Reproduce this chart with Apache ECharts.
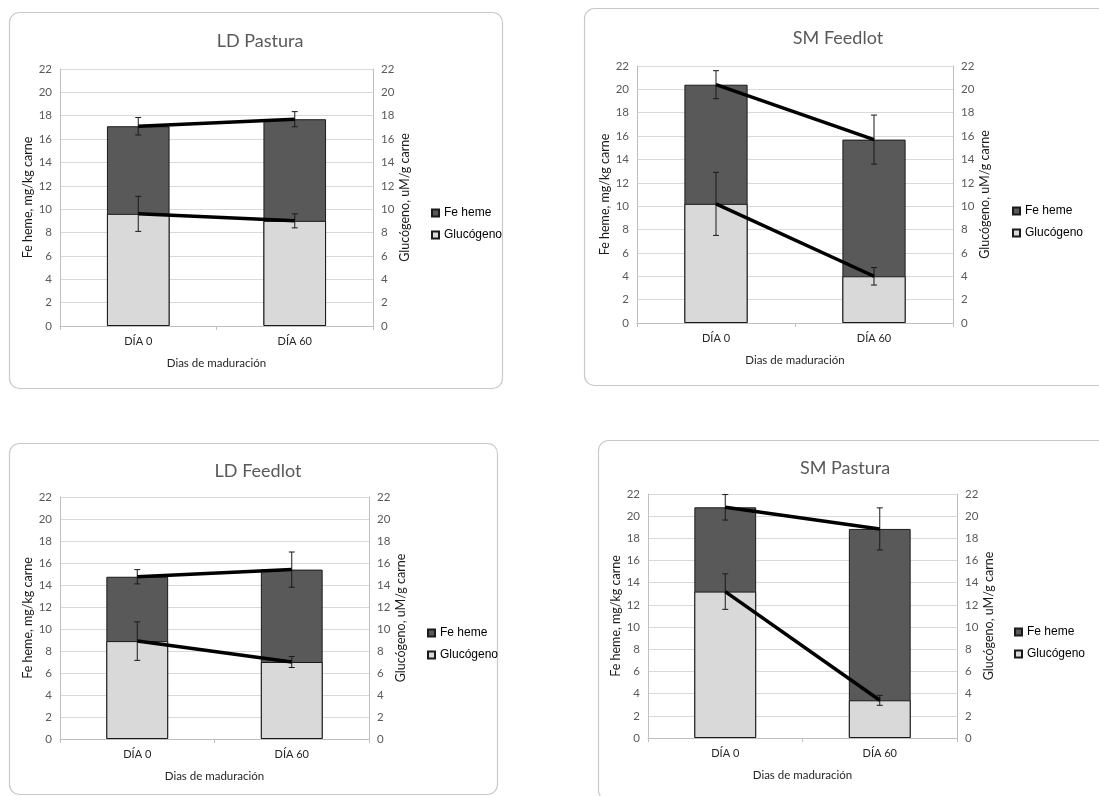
<!DOCTYPE html>
<html>
<head>
<meta charset="utf-8">
<script src="https://cdn.jsdelivr.net/npm/echarts@6/dist/echarts.min.js"></script>
<style>
html,body{margin:0;padding:0;background:#fff;}
#chart{width:1099px;height:796px;}
</style>
</head>
<body>
<div id="chart"></div>
<script>
// ---- data ----
const categories = ['DÍA 0', 'DÍA 60'];
const panelTitles = ['LD Pastura', 'SM Feedlot', 'LD Feedlot', 'SM Pastura'];
const seriesNames = ['Fe heme', 'Glucógeno'];
const xAxisTitle = 'Dias de maduración';
const leftAxisTitle = 'Fe heme, mg/kg carne';
const rightAxisTitle = 'Glucógeno, uM/g carne';
const yMin = 0, yMax = 22, yStep = 2;
const feHeme = [[17.1, 17.7], [20.4, 15.7], [14.75, 15.4], [20.8, 18.85]];
const feHemeErr = [[0.75, 0.65], [1.2, 2.1], [0.65, 1.6], [1.15, 1.9]];
const glucogeno = [[9.6, 9.0], [10.2, 4.0], [8.9, 7.0], [13.2, 3.4]];
const glucogenoErr = [[1.5, 0.6], [2.7, 0.75], [1.75, 0.5], [1.6, 0.45]];

// ---- layout ----
const layout = [
  {box: [9, 12, 493, 376], grid: [60, 69, 313, 257], title: [255, 27], legend: [426, 202]},
  {box: [584, 8, 540, 377], grid: [637, 66, 316, 257], title: [833, 24], legend: [1007, 200]},
  {box: [9, 443, 488, 351], grid: [60, 497, 309, 242], title: [253, 457], legend: [422, 622]},
  {box: [598, 440, 540, 360], grid: [648, 494, 309, 244], title: [840, 454], legend: [1009, 621]}
];

const CAL = 'Lato, "Open Sans", sans-serif';
const grids = [], xAxes = [], yAxes = [], series = [], titles = [], legends = [], graphics = [];

function errorSeries(p, vals, errs, yIdx) {
  return {
    type: 'custom', xAxisIndex: p, yAxisIndex: yIdx, z: 4, silent: true,
    data: vals.map((v, i) => [i, v - errs[i], v + errs[i]]),
    encode: {x: 0, y: [1, 2]},
    renderItem: function (params, api) {
      const lo = api.coord([api.value(0), api.value(1)]);
      const hi = api.coord([api.value(0), api.value(2)]);
      const hw = 3;
      const st = {stroke: '#1a1a1a', lineWidth: 1};
      return {type: 'group', children: [
        {type: 'line', shape: {x1: hi[0], y1: hi[1], x2: lo[0], y2: lo[1]}, style: st},
        {type: 'line', shape: {x1: hi[0] - hw, y1: hi[1], x2: hi[0] + hw, y2: hi[1]}, style: st},
        {type: 'line', shape: {x1: lo[0] - hw, y1: lo[1], x2: lo[0] + hw, y2: lo[1]}, style: st}
      ]};
    }
  };
}

layout.forEach((L, p) => {
  graphics.push({type: 'rect', silent: true, z: -10,
    shape: {x: L.box[0] + 0.5, y: L.box[1] + 0.5, width: L.box[2], height: L.box[3], r: 10},
    style: {fill: '#fff', stroke: '#c9c9c9', lineWidth: 1.2}});
  grids.push({left: L.grid[0], top: L.grid[1], width: L.grid[2], height: L.grid[3], containLabel: false});
  titles.push({text: panelTitles[p], left: L.title[0], top: L.title[1], textAlign: 'center',
    textStyle: {fontFamily: CAL, fontSize: 18, fontWeight: 'normal', color: '#595959'}});
  legends.push({data: seriesNames, orient: 'vertical', left: L.legend[0], top: L.legend[1],
    itemWidth: 7, itemHeight: 7, itemGap: 10, icon: 'rect', selectedMode: false,
    textStyle: {fontFamily: '"Liberation Sans", Arial, sans-serif', fontSize: 12, color: '#000'}});
  xAxes.push({type: 'category', gridIndex: p, data: categories, boundaryGap: true,
    axisLine: {lineStyle: {color: '#bfbfbf'}},
    axisTick: {show: true, length: 4, lineStyle: {color: '#bfbfbf'}},
    axisLabel: {fontFamily: CAL, fontSize: 11, color: '#262626', margin: 10},
    name: xAxisTitle, nameLocation: 'middle', nameGap: 31,
    nameTextStyle: {fontFamily: CAL, fontSize: 11.5, color: '#262626'}});
  const yBase = {type: 'value', gridIndex: p, min: yMin, max: yMax, interval: yStep,
    axisLine: {show: true, lineStyle: {color: '#bfbfbf'}}, axisTick: {show: false},
    axisLabel: {fontFamily: CAL, fontSize: 11.5, color: '#595959', margin: 8},
    nameLocation: 'middle',
    nameTextStyle: {fontFamily: CAL, fontSize: 12.5, color: '#1a1a1a'}};
  yAxes.push(Object.assign({}, yBase, {position: 'left', name: leftAxisTitle, nameGap: 22,
    splitLine: {show: true, lineStyle: {color: '#d9d9d9'}}}));
  yAxes.push(Object.assign({}, yBase, {position: 'right', name: rightAxisTitle, nameGap: 24,
    splitLine: {show: false}}));
  const yl = p * 2, yr = p * 2 + 1;
  series.push({type: 'bar', name: seriesNames[0], xAxisIndex: p, yAxisIndex: yl, data: feHeme[p],
    barWidth: '40%', barGap: '-100%', z: 2,
    itemStyle: {color: '#595959', borderColor: '#1a1a1a', borderWidth: 1}});
  series.push({type: 'bar', name: seriesNames[1], xAxisIndex: p, yAxisIndex: yr, data: glucogeno[p],
    barWidth: '40%', barGap: '-100%', z: 3,
    itemStyle: {color: '#d9d9d9', borderColor: '#1a1a1a', borderWidth: 1}});
  series.push(errorSeries(p, feHeme[p], feHemeErr[p], yl));
  series.push(errorSeries(p, glucogeno[p], glucogenoErr[p], yr));
  series.push({type: 'line', name: seriesNames[0] + ' línea', xAxisIndex: p, yAxisIndex: yl, data: feHeme[p],
    symbol: 'none', z: 5, lineStyle: {color: '#000', width: 3.5}, silent: true});
  series.push({type: 'line', name: seriesNames[1] + ' línea', xAxisIndex: p, yAxisIndex: yr, data: glucogeno[p],
    symbol: 'none', z: 5, lineStyle: {color: '#000', width: 3.5}, silent: true});
});

const chart = echarts.init(document.getElementById('chart'), null, {renderer: 'canvas'});
chart.setOption({
  animation: false,
  backgroundColor: '#fff',
  title: titles,
  legend: legends,
  grid: grids,
  xAxis: xAxes,
  yAxis: yAxes,
  series: series,
  graphic: graphics
});
</script>
</body>
</html>
